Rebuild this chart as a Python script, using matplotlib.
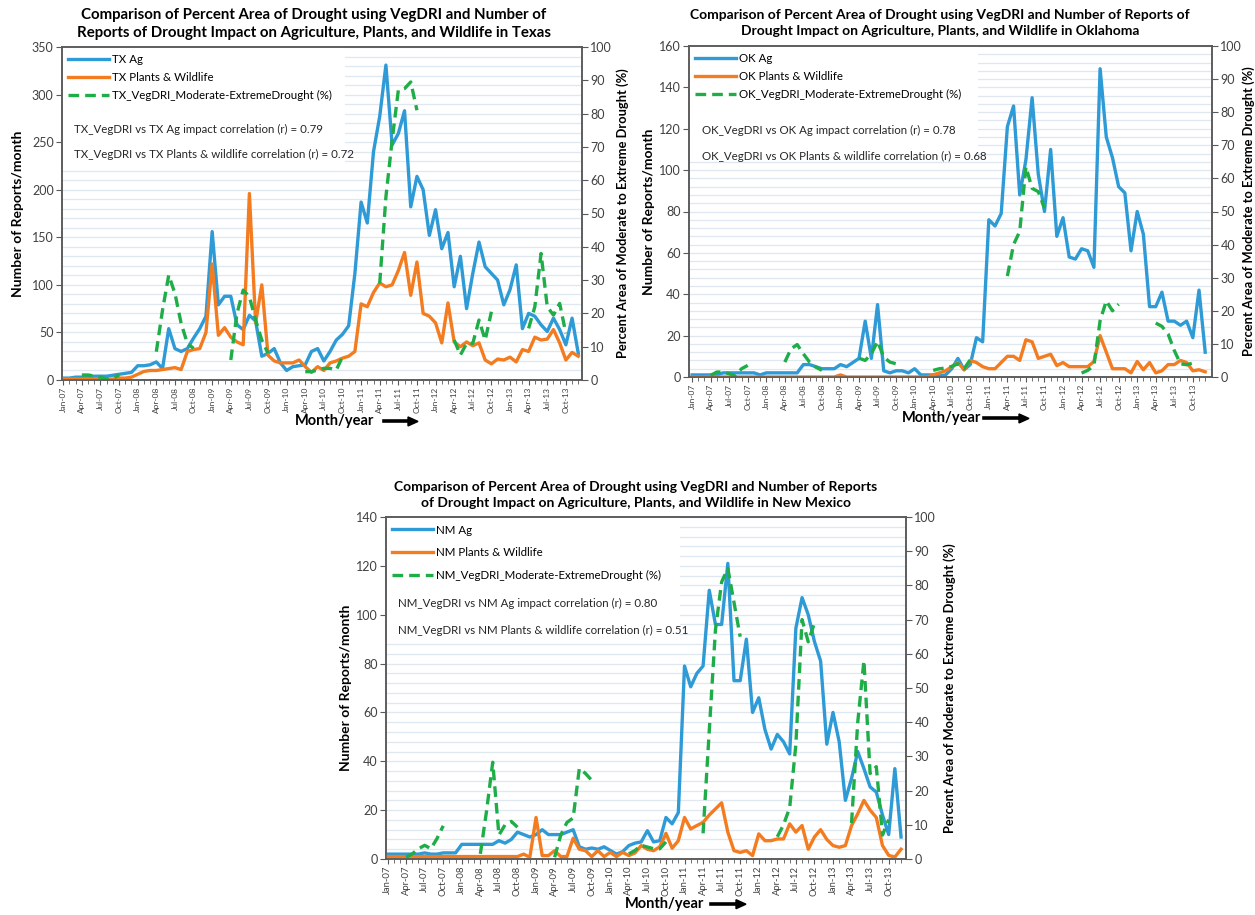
import matplotlib.pyplot as plt
import numpy as np
import pandas as pd
from matplotlib.patches import Rectangle
from matplotlib.ticker import MultipleLocator

plt.rcParams['font.family'] = ['Lato', 'DejaVu Sans']

# monthly categories Jan-07 .. Dec-13
months = pd.date_range('2007-01-01', periods=84, freq='MS').strftime('%b-%y').tolist()

# ---- Texas ----
tx_ag = [2, 2, 3, 3, 3, 4, 4, 4, 5, 6, 7, 8,
         15, 15, 16, 19, 12, 54, 33, 30, 33, 44, 54, 67,
         156, 79, 88, 88, 58, 53, 68, 62, 25, 28, 33, 18,
         10, 14, 15, 16, 30, 33, 20, 30, 42, 48, 57, 112,
         187, 165, 240, 277, 331, 247, 259, 283, 182, 214, 200, 152,
         179, 138, 155, 98, 130, 75, 112, 145, 119, 112, 105, 79,
         95, 121, 54, 70, 67, 58, 51, 65, 53, 37, 65, 28]
tx_pw = [1, 1, 1, 1, 1, 1, 1, 1, 1, 2, 2, 3,
         6, 9, 10, 10, 11, 12, 13, 11, 30, 32, 33, 50,
         122, 47, 55, 45, 40, 37, 196, 60, 100, 26, 20, 18,
         18, 18, 21, 14, 8, 14, 10, 18, 20, 23, 25, 30,
         80, 77, 92, 102, 98, 100, 115, 134, 89, 124, 70, 67,
         60, 39, 81, 40, 35, 40, 36, 39, 21, 17, 22, 21,
         24, 19, 32, 30, 45, 42, 43, 53, 39, 21, 29, 25]
tx_veg = [None, None, None, 1.5, 1.5, 1.2, 0.8, 0.3, 0.5, 1.5, None, None,
          None, None, None, 8.5, 21, 31.5, 26, 17, 11, 9.5, None, None,
          None, None, None, 6, 20, 27, 25, 18, 12, 8, None, None,
          None, None, None, 2.5, 2.5, 3, 3.5, 3.5, 3, 7, None, None,
          None, None, None, 29, 55, 72, 87, 87.5, 89.5, 81, None, None,
          None, None, None, 12, 7.5, 11, 11, 18, 12, 20.5, None, None,
          None, None, None, 15.5, 22, 38, 22, 19.5, 23, 14, None, None]

# ---- Oklahoma ----
ok_ag = [1, 1, 1, 1, 1, 2, 2, 2, 2, 2, 2, 1,
         2, 2, 2, 2, 2, 2, 6, 6, 5, 4, 4, 4,
         6, 5, 7, 9, 27, 9, 35, 3, 2, 3, 3, 2,
         4, 1, 1, 1, 0.5, 1, 4, 9, 3.5, 6, 19, 17,
         76, 73, 79, 121, 131, 88, 105, 135, 98, 80, 110, 68,
         77, 58, 57, 62, 61, 53, 149, 116, 106, 92, 89, 61,
         80, 69, 34, 34, 41, 27, 27, 25, 27, 19, 42, 12]
ok_pw = [0, 0, 0, 0, 0, 0, 0, 0, 0, 0, 0, 0,
         0, 0, 0, 0, 0, 0, 0, 0, 0, 0, 0, 0,
         1, 0, 0, 0, 0, 0, 0, 0, 0, 0, 0, 0,
         0, 0, 0, 1, 2, 3, 5, 7, 3.5, 8, 7, 5,
         4, 4, 7, 10, 10, 8, 18, 17, 9, 10, 11, 5.5,
         7, 5, 5, 5, 5, 7.5, 20, 12, 4, 4, 4, 2,
         7.5, 3.5, 7, 2, 3, 6, 6, 8, 7, 3, 3.5, 2.5]
ok_veg = [None, None, None, 0.5, 1.5, 1.5, 1, 0.3, 2.5, 3.5, None, None,
          None, None, None, 4.5, 8.5, 9.8, 7, 4.5, 3, 2, None, None,
          None, None, None, 5.7, 5, 7, 10.8, 6, 4.5, 4, None, None,
          None, None, None, 2, 2.5, 2.7, 3.2, 4, 2.5, 5.2, None, None,
          None, None, None, 30.5, 40, 44, 63.5, 57, 56, 51, None, None,
          None, None, None, 1.2, 2, 3.5, 17, 23, 20, 22, None, None,
          None, None, None, 16.3, 15.3, 13, 8, 4, 3.7, 4.2, None, None]

# ---- New Mexico ----
nm_ag = [2, 2, 2, 2, 2, 2, 2.5, 2, 2, 2.5, 2.5, 2.5,
         6, 6, 6, 6, 6, 6, 7.5, 6.5, 8, 11, 10, 9,
         10, 12, 10, 10, 10, 11, 12, 5, 4, 4.5, 4, 5,
         3.5, 2, 3, 5.5, 6.5, 7, 11.6, 7, 7.5, 17, 14.4, 19,
         79, 70.5, 76, 79, 110, 96, 96, 121, 73, 73, 90, 60,
         66, 53, 45, 51, 48, 43, 94.5, 107, 100, 89, 81, 47,
         60, 48, 24, 33, 44, 37, 29.5, 27.4, 18, 10, 37, 9]
nm_pw = [1, 1, 1, 1, 1, 1, 1, 1, 1, 1, 1, 1,
         1, 1, 1, 1, 1, 1, 1, 1, 1, 1, 2, 0.7,
         17, 1.4, 1.4, 3.4, 1, 1, 8.5, 4, 3.4, 1, 3.4, 1,
         2.7, 1, 2.7, 1.4, 2.5, 5.5, 4, 3.4, 5, 10.5, 4.4, 7.5,
         17, 12.3, 13.7, 15, 18, 20.5, 23, 11, 3.4, 2.7, 3.4, 1.4,
         10.3, 7.5, 7.5, 8.2, 8.2, 14.4, 11, 13.7, 4, 9, 12, 8,
         5.5, 4.8, 5.5, 13.7, 18.5, 24, 20, 17, 5.5, 1.5, 0.8, 4]
nm_veg = [None, None, None, 0.5, 1.5, 3, 4, 3, 6, 9.7, None, None,
          None, None, None, 1.5, 14, 28.3, 7, 10, 11, 9.3, None, None,
          None, None, None, 0.5, 7, 10.7, 12, 26.5, 25, 23, None, None,
          None, None, None, 1.5, 2.5, 4, 3.5, 3, 3, 5, None, None,
          None, None, None, 7.5, 37.5, 67, 81, 85, 75, 65, None, None,
          None, None, None, 6.5, 10, 15, 33.5, 70, 63.5, 69, None, None,
          None, None, None, 10.5, 40, 58, 25, 27, 7, 11.5, None, None]

BLUE = '#2e9ad6'
ORANGE = '#f47c20'
GREEN = '#1fad48'
AXC = '#595959'
GRID = '#dfe7f1'

fig = plt.figure(figsize=(12.55, 9.15), dpi=100)
W, H = 1255, 915


def fx(px):
    return px / W


def fy(py):
    return 1 - py / H


def draw(rect, st, ag, pw, veg, ymax, ystep, xlim, r_ag, r_pw, box, lspace, corr_y,
         xlab_size, pads):
    ax = fig.add_axes(rect)
    ax2 = ax.twinx()
    x = np.arange(len(months))
    ax.plot(x, ag, color=BLUE, lw=2.4, solid_joinstyle='round', label=f'{st} Ag', zorder=3)
    ax.plot(x, pw, color=ORANGE, lw=2.4, solid_joinstyle='round',
            label=f'{st} Plants & Wildlife', zorder=3)
    ax2.plot(x, np.array(veg, dtype=float), color=GREEN, lw=2.4, ls=(0, (3.2, 1.8)),
             label=f'{st}_VegDRI_Moderate-ExtremeDrought (%)')

    ax.set_xlim(xlim)
    ax.set_ylim(0, ymax)
    ax2.set_ylim(0, 100)
    ax.set_yticks(np.arange(0, ymax + 1, ystep))
    ax.yaxis.set_minor_locator(MultipleLocator(ystep / 5))
    ax2.set_yticks(np.arange(0, 101, 10))
    ax.grid(which='both', axis='y', color=GRID, lw=0.9)
    ax.set_axisbelow(True)
    ax.add_patch(Rectangle((0, box[1]), box[0], 1 - box[1], transform=ax.transAxes,
                           facecolor='white', edgecolor='none', zorder=1))

    ax.set_xticks(x[::3])
    ax.set_xticklabels(months[::3], rotation=90)
    ax.set_xticks(x, minor=True)
    for a in (ax, ax2):
        a.tick_params(which='both', direction='out', color=AXC, labelcolor='#404040')
        for s in a.spines.values():
            s.set_color(AXC)
            s.set_linewidth(1.1)
    ax.tick_params(axis='x', which='major', length=3.5, labelsize=xlab_size, pad=1.5)
    ax.tick_params(axis='x', which='minor', length=3)
    ax.tick_params(axis='y', which='major', length=4, labelsize=9, pad=2)
    ax.tick_params(axis='y', which='minor', length=0)
    ax2.tick_params(axis='y', length=4, labelsize=9, pad=2)

    ax.set_ylabel('Number of Reports/month', fontsize=10, fontweight='bold', labelpad=pads[0])
    ax2.set_ylabel('Percent Area of Moderate to Extreme Drought (%)', fontsize=9.3,
                   fontweight='bold', labelpad=pads[1])

    h1, l1 = ax.get_legend_handles_labels()
    h2, l2 = ax2.get_legend_handles_labels()
    ax2.legend(h1 + h2, l1 + l2, loc='upper left', bbox_to_anchor=(0.012, 0.978),
               frameon=False, fontsize=8.3, handlelength=3.5, handletextpad=0.3,
               labelspacing=lspace, borderpad=0, borderaxespad=0)
    ax2.text(0.024, corr_y[0], f'{st}_VegDRI vs {st} Ag impact correlation (r) = {r_ag}',
             transform=ax.transAxes, fontsize=8.3, va='center', color='#262626')
    ax2.text(0.024, corr_y[1], f'{st}_VegDRI vs {st} Plants & wildlife correlation (r) = {r_pw}',
             transform=ax.transAxes, fontsize=8.3, va='center', color='#262626')
    return ax


def month_year(ax, cx, x0, x1):
    # sit the label just under the rotated month labels
    fig.canvas.draw()
    r = fig.canvas.get_renderer()
    low = min(t.get_window_extent(r).y0 for t in ax.get_xticklabels())
    top = H - low + 1
    t = fig.text(fx(cx), fy(top), 'Month/year', ha='center', va='top',
                 fontsize=10.5, fontweight='bold')
    bb = t.get_window_extent(r)
    cy = H - (bb.y0 + bb.y1) / 2
    fig.add_artist(plt.Line2D([fx(x0), fx(x1 - 8)], [fy(cy), fy(cy)], color='black', lw=2.6))
    fig.patches.append(plt.Polygon([[fx(x1 - 10), fy(cy - 4.5)], [fx(x1), fy(cy)],
                                    [fx(x1 - 10), fy(cy + 4.5)]],
                                   closed=True, color='black', transform=fig.transFigure))


# Texas (top left)
ax_tx = draw([fx(62), fy(380), fx(520), 333 / H], 'TX', tx_ag, tx_pw, tx_veg, 350, 50,
             (-0.2, 83.6), '0.79', '0.72', (0.545, 0.645), 0.6, (0.751, 0.676), 6.0, (6, 3))
fig.text(fx(314), fy(24), 'Comparison of Percent Area of Drought using VegDRI and Number of\n'
         'Reports of Drought Impact on Agriculture, Plants, and Wildlife in Texas',
         ha='center', va='center', fontsize=10.8, fontweight='bold', linespacing=1.35)

# Oklahoma (top right)
ax_ok = draw([fx(689), fy(377), fx(523), 331 / H], 'OK', ok_ag, ok_pw, ok_veg, 160, 20,
             (-0.5, 84.1), '0.78', '0.68', (0.553, 0.656), 0.6, (0.746, 0.665), 6.0, (3, 0))
fig.text(fx(940), fy(23), 'Comparison of Percent Area of Drought using VegDRI and Number of Reports of\n'
         'Drought Impact on Agriculture, Plants, and Wildlife in Oklahoma',
         ha='center', va='center', fontsize=10, fontweight='bold', linespacing=1.4)

# New Mexico (bottom centre)
ax_nm = draw([fx(386), fy(859), fx(520), 342 / H], 'NM', nm_ag, nm_pw, nm_veg, 140, 20,
             (-0.25, 83.8), '0.80', '0.51', (0.565, 0.646), 1.0, (0.746, 0.667), 6.8, (3, 5))
fig.text(fx(636), fy(495), 'Comparison of Percent Area of Drought using VegDRI and Number of Reports\n'
         'of Drought Impact on Agriculture, Plants, and Wildlife in New Mexico',
         ha='center', va='center', fontsize=10, fontweight='bold', linespacing=1.4)

month_year(ax_tx, 335, 384, 418)
month_year(ax_ok, 942, 984, 1029)
month_year(ax_nm, 665, 711, 746)

fig.savefig('out.png', dpi=100)
